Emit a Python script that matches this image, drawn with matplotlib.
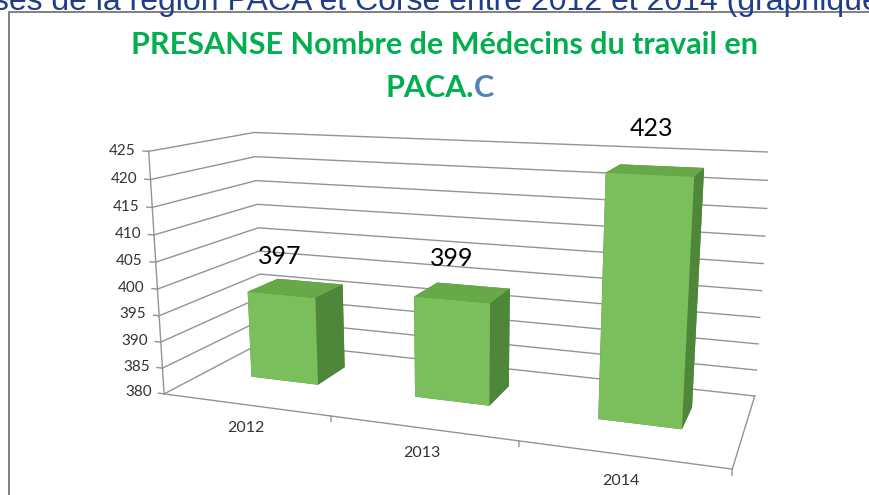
import numpy as np
import matplotlib
matplotlib.use('Agg')
import matplotlib.pyplot as plt
from matplotlib.patches import Rectangle

years = ['2012', '2013', '2014']
medecins = [397, 399, 423]
zticks = [380, 385, 390, 395, 400, 405, 410, 415, 420, 425]

green_title = '#00b050'
blue_c = '#4f81bd'
grid_col = '#939393'
front_col = '#7abf5c'
top_col = '#67a949'
side_col = '#4e873a'
txt_col = '#333333'

fig = plt.figure(figsize=(8.69, 4.95), dpi=100)

# heading of the slide, cut at the top edge
fig.text(-7 / 869, 1 - 10 / 495, 'ses de la région PACA et Corse entre 2012 et 2014 (graphique)',
         family='Liberation Sans', fontsize=23, color='#1f3d8a', va='baseline', ha='left')

# chart frame
fig.add_artist(Rectangle((9 / 869, -0.5), 1.2, 1.5 - 12 / 495, transform=fig.transFigure,
                         fill=False, ec='#808080', lw=1.4))

fig.text(0.512, 1 - 45 / 495, 'PRESANSE Nombre de Médecins du travail en',
         family='Lato', weight='bold', fontsize=22, color=green_title, ha='center', va='center')
fig.text(474 / 869, 1 - 88 / 495, 'PACA.', family='Lato', weight='bold', fontsize=22,
         color=green_title, ha='right', va='center')
fig.text(474 / 869, 1 - 88 / 495, 'C', family='Lato', weight='bold', fontsize=22,
         color=blue_c, ha='left', va='center')

ax = fig.add_axes([0.1519, -0.2182, 0.7319, 1.2848], projection='3d', computed_zorder=False)
ax.set_proj_type('persp', focal_length=0.32)
ax.view_init(elev=13, azim=-70)
ax.set_box_aspect((568, 200, 248), zoom=1.0)
ax.set_axis_off()

n = len(years)
x0, x1 = 0, n
y0, y1 = 0, 1
z0, z1 = zticks[0], zticks[-1]
ax.set_xlim(x0, x1)
ax.set_ylim(y0, y1)
ax.set_zlim(z0, z1)

# gridlines on the left and back walls, value ticks and labels
for z in zticks:
    ax.plot([x0, x0, x1], [y0, y1, y1], [z, z, z], color=grid_col, lw=1, zorder=1)
    ax.plot([x0 - 0.035, x0], [y0, y0], [z, z], color=grid_col, lw=1, zorder=1)
    ax.text(x0 - 0.08, y0, z, str(z), ha='right', va='center', family='Lato',
            fontsize=11, color=txt_col)

# value axis + floor outline
ax.plot([x0, x0, x1, x1], [y0, y0, y0, y1], [z1, z0, z0, z0], color=grid_col, lw=1, zorder=1)
for k in range(1, n + 1):
    ax.plot([k, k], [y0, y0], [z0, z0 - 1], color=grid_col, lw=1, zorder=1)

# bars
w, d, yb = 0.42, 0.32, 0.4
xs = np.arange(n) + 0.5 - w / 2
ys = np.full(n, yb)
zs = np.full(n, z0)
dz = np.array(medecins) - z0
face_cols = []
for i in range(n):
    # faces: bottom, top, front, back, left, right
    face_cols += [side_col, top_col, front_col, side_col, side_col, side_col]
ax.bar3d(xs, ys, zs, w, d, dz, color=face_cols, shade=False, zorder=3)

for i, (yr, v) in enumerate(zip(years, medecins)):
    ax.text(i + 0.5, yb, v + 7.5, str(v), ha='center', va='center', family='Lato',
            fontsize=18, color='black', zorder=5)
    ax.text(i + 0.5, y0, z0 - 4.5, yr, ha='center', va='center', family='Lato',
            fontsize=11.5, color=txt_col)

fig.savefig('out.png', dpi=100)
